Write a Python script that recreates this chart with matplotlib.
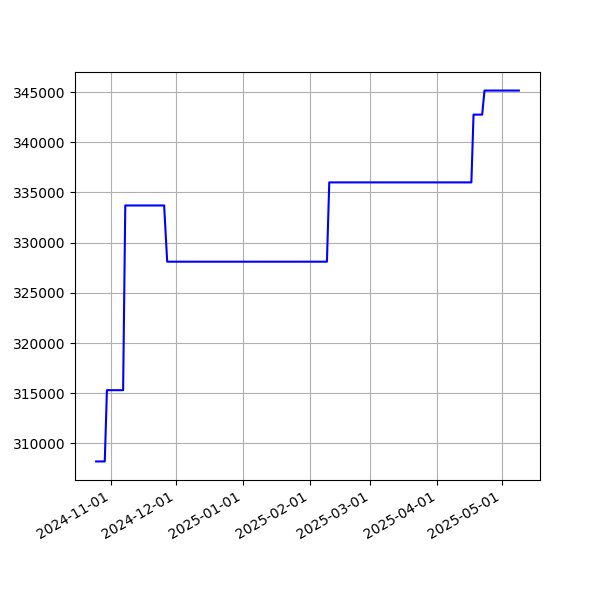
import matplotlib
matplotlib.use('Agg')

import matplotlib.pyplot as plt
import matplotlib.dates as mdates
import pandas as pd

dates = ['2024-10-25 00:00', '2024-10-29 00:00', '2024-10-30 00:00', '2024-11-06 12:00',
         '2024-11-07 12:00', '2024-11-25 12:00', '2024-11-26 22:00',
         '2025-02-08 22:00', '2025-02-10 00:00', '2025-04-16 20:00',
         '2025-04-17 20:00', '2025-04-21 20:00', '2025-04-22 22:00',
         '2025-05-08 20:00']
values = [308200, 308200, 315300, 315300,
          333700, 333700, 328100,
          328100, 336000, 336000,
          342750, 342750, 345150,
          345150]


def main():
    x = pd.to_datetime(dates, format='%Y-%m-%d %H:%M')
    fig, ax = plt.subplots(figsize=(6, 6), dpi=100)
    ax.plot(x, values, color='blue')
    ax.xaxis.set_major_formatter(mdates.DateFormatter('%Y-%m-%d'))
    ax.grid(True)
    fig.autofmt_xdate()
    fig.savefig('out.png')


if __name__ == '__main__':
    main()
